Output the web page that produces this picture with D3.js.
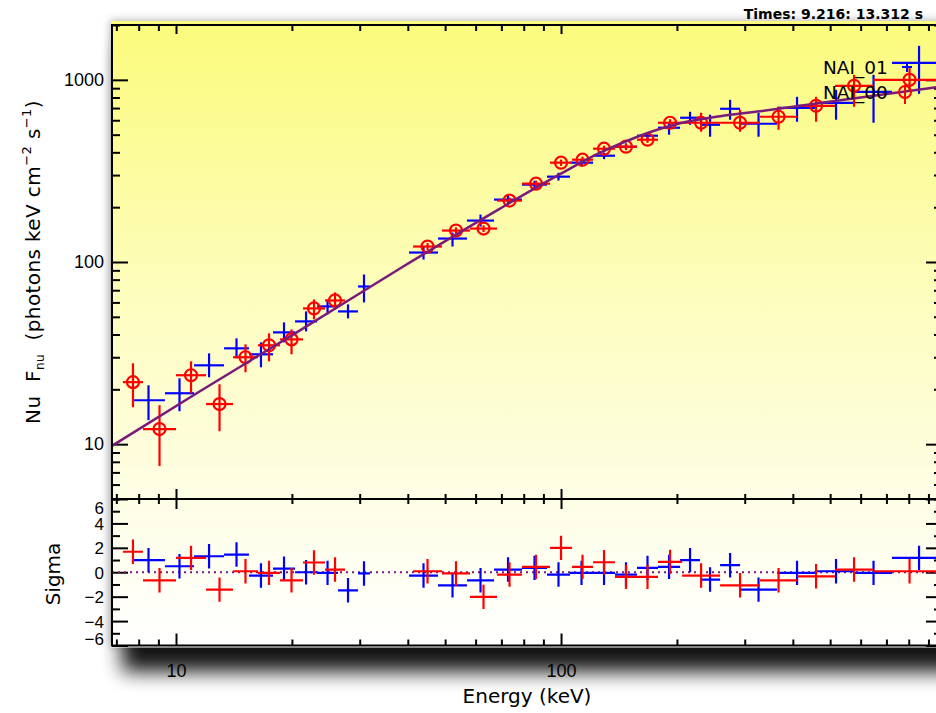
<!DOCTYPE html>
<html>
<head>
<meta charset="utf-8">
<script src="https://cdn.jsdelivr.net/npm/d3@7"></script>
<style>
  html, body { margin: 0; padding: 0; background: #ffffff; }
  svg { display: block; font-family: "DejaVu Sans", "Noto Sans", sans-serif; }
</style>
</head>
<body>
<svg id="chart" width="936" height="713"></svg>
<script>
// ---------- Data ----------
// NAI_00 (red): energy bin edges (keV), nu F_nu with 1-sigma bounds, fit residuals (sigma)
const redLo = [7.28, 8.21, 10.0, 11.97, 14.06, 16.33, 18.63, 21.37, 24.38,
               41.27, 49.08, 58.02, 68.20, 79.19, 93.63, 106.8, 121.1, 138.1, 157.5, 178.6, 206.3, 258.9, 328.7, 410.3, 514.9, 646.2];
const redHi = [8.21, 10.0, 11.97, 14.06, 16.33, 18.63, 21.37, 24.38, 27.48,
               49.08, 58.02, 68.20, 79.19, 93.63, 106.8, 121.1, 138.1, 157.5, 178.6, 206.3, 258.9, 328.7, 410.3, 514.9, 646.2, 1000];
const redFlux = [21.9, 12.1, 23.9, 16.6, 30.0, 34.9, 37.6, 55.6, 61.5,
                 121.6, 148.8, 152.6, 217.3, 269.2, 351, 364.5, 418.7, 429.4, 469.1, 581.2, 581.2, 581.2, 627.1, 720.2, 927.1, 1000];
const redFluxLo = [15.95, 7.58, 19.03, 11.78, 24.8, 28.5, 31.13, 48.4, 54.9,
                   116, 142, 146, 208, 258, 337, 350, 402, 412, 451, 556, 518.9, 518.9, 532.2, 588.6, 711.2, 859.5];
const redFluxHi = [27.79, 16.36, 28.5, 21.32, 35.31, 40.58, 42.67, 62.3, 68.1,
                   127, 155, 159, 226, 280, 365, 379, 435, 446, 488, 608, 659.5, 684.8, 711.2, 806.9, 1065, 1163.5];
const redSigma = [1.68, -0.66, 1.18, -1.42, 0.08, -0.05, -0.66, 0.8, 0.22,
                  0.08, -0.1, -2.02, -0.19, 0.44, 2.0, 0.44, 0.82, -0.38, -0.38, 0.85, -0.27, -1.07, -0.66, -0.33, 0.22, 0.08];

// NAI_01 (blue)
const blueLo = [7.69, 9.36, 11.14, 13.33, 15.47, 17.86, 20.38, 23.25, 26.35, 29.70,
                40.29, 47.92, 56.99, 66.99, 79.19, 91.96, 105.5, 121.1, 138.1, 157.5, 178.6, 203.8, 229.6, 258.9, 291.7, 363.9, 462.3, 580.2, 723.9];
const blueHi = [9.36, 11.14, 13.33, 15.47, 17.86, 20.38, 23.25, 26.35, 29.70, 31.9,
                47.92, 56.99, 66.99, 79.19, 91.96, 105.5, 121.1, 138.1, 157.5, 178.6, 203.8, 229.6, 258.9, 291.7, 363.9, 462.3, 580.2, 723.9, 1000];
const blueFlux = [17.42, 19.03, 27.09, 33.58, 31.13, 41.08, 47.2, 57.04, 53.55, 73.4,
                  112.7, 134.5, 168.8, 220.1, 265.9, 294.1, 351, 383.3, 429.4, 493.5, 545.8, 619.3, 566.7, 693.5, 574.1, 702.3, 748.1, 859.5, 1239];
const blueFluxLo = [13.54, 15.16, 23.29, 29.6, 26.42, 36.22, 41.6, 51.57, 49.0, 60.0,
                    103.2, 121.6, 156.5, 209, 253, 280, 334, 367, 411, 475, 499.7, 566.7, 487.3, 603.9, 487.3, 588.6, 603.9, 581.2, 838];
const blueFluxHi = [21.05, 22.99, 31.52, 38.08, 36.22, 46.62, 53.55, 62.3, 58.5, 85.4,
                    121.6, 145.1, 182.1, 232, 279, 309, 368, 399, 448, 512, 581.2, 667.7, 643.2, 777, 659.5, 806.9, 881.4, 1065, 1536];
const blueSigma = [0.99, 0.49, 1.31, 1.45, -0.27, 0.3, 0.0, -0.05, -1.48, -0.1,
                   -0.27, -1.07, -0.66, 0.22, 0.36, -0.19, -0.05, -0.05, -0.19, 0.36, 0.44, 0.99, -0.6, 0.58, -1.42, -0.05, 0.08, -0.05, 1.18];

// Fitted model, nu F_nu
const modelEnergy = [6.82, 11.54, 20.99, 38.17, 69.43, 99.4, 126.3, 160.4, 203.8, 258.8, 328.8, 530.6, 976.4];
const modelFlux   = [9.79, 19.52, 42.14, 92.1, 196.5, 303.5, 398, 493.5, 577.5, 631, 672, 772, 919];

// Axis ticks and labels
const energyLabels = [10, 100];
const fluxLabels = [10, 100, 1000];
const sigmaTicks = [-6, -5, -4, -3, -2, -1, 0, 1, 2, 3, 4, 5, 6];
const sigmaLabels = [-6, -4, -2, 0, 2, 4, 6];
const detectorNames = ["NAI_01", "NAI_00"];
const timeLabel = "Times: 9.216: 13.312 s";

// ---------- Layout ----------
const L = 112, R = 942, T = 25, MID = 499, B = 645.5;
const RED = "#ff0000", BLUE = "#0000ff", MODEL = "#7a1a7a";

const x = d3.scaleLog().domain([6.82, 976]).range([L, R]);
const yFlux = d3.scaleLog().domain([5, 2000]).range([MID, T]);
const ySig = d3.scaleLinear().domain([-6, 6]).range([B, MID]);

const svg = d3.select("#chart");
const defs = svg.append("defs");

const grad = defs.append("linearGradient").attr("id", "bgGrad")
  .attr("x1", 0).attr("y1", 0).attr("x2", 0).attr("y2", 1);
grad.append("stop").attr("offset", "0%").attr("stop-color", "#fbfb7c");
grad.append("stop").attr("offset", "45%").attr("stop-color", "#fdfdbf");
grad.append("stop").attr("offset", "80%").attr("stop-color", "#fefeea");
grad.append("stop").attr("offset", "100%").attr("stop-color", "#ffffff");

defs.append("filter").attr("id", "dropBlur")
  .attr("x", "-10%").attr("y", "-10%").attr("width", "120%").attr("height", "130%")
  .append("feGaussianBlur").attr("stdDeviation", 10);
defs.append("filter").attr("id", "softBlur")
  .attr("x", "-10%").attr("y", "-10%").attr("width", "120%").attr("height", "120%")
  .append("feGaussianBlur").attr("stdDeviation", 4);

defs.append("clipPath").attr("id", "clipTop").append("rect")
  .attr("x", L).attr("y", T).attr("width", R - L).attr("height", MID - T);
defs.append("clipPath").attr("id", "clipBot").append("rect")
  .attr("x", L).attr("y", MID).attr("width", R - L).attr("height", B - MID);

// frame shadows and background
svg.append("rect").attr("x", L - 2).attr("y", T - 5).attr("width", R - L + 6).attr("height", B - T + 6)
  .attr("fill", "#000").attr("opacity", 0.28).attr("filter", "url(#softBlur)");
svg.append("rect").attr("x", L + 10).attr("y", T + 22).attr("width", R - L + 10).attr("height", B - T + 4)
  .attr("fill", "#000").attr("opacity", 0.92).attr("filter", "url(#dropBlur)");
svg.append("rect").attr("x", L - 1).attr("y", T - 4).attr("width", R - L + 6).attr("height", B - T + 6)
  .attr("fill", "url(#bgGrad)");

// ---------- Axes ----------
const near = (a, b) => Math.abs(a - b) < 1e-6 * Math.max(1, Math.abs(b));
const xAll = x.ticks();
const xMaj = xAll.filter(v => energyLabels.some(m => near(v, m)));
const xMin = xAll.filter(v => !energyLabels.some(m => near(v, m)));
const fAll = yFlux.ticks();
const fMaj = fAll.filter(v => fluxLabels.some(m => near(v, m)));
const fMin = fAll.filter(v => !fluxLabels.some(m => near(v, m)));
const sMaj = sigmaTicks.filter(v => sigmaLabels.includes(v));
const sMin = sigmaTicks.filter(v => !sigmaLabels.includes(v));

function drawAxis(gen, tx, ty, fontSize) {
  const g = svg.append("g").attr("transform", `translate(${tx},${ty})`).call(gen);
  g.select(".domain").remove();
  g.selectAll(".tick line").attr("stroke", "#000").attr("stroke-width", 2);
  g.selectAll("text").attr("fill", "#000").attr("font-size", fontSize || 18);
  return g;
}
const blank = () => "";

// energy ticks: top of upper panel, both sides of the panel split, bottom
drawAxis(d3.axisTop(x).tickValues(xMaj).tickSize(-9).tickFormat(blank), 0, T);
drawAxis(d3.axisTop(x).tickValues(xMin).tickSize(-6).tickFormat(blank), 0, T);
drawAxis(d3.axisBottom(x).tickValues(xMaj).tickSize(-10).tickFormat(blank), 0, MID);
drawAxis(d3.axisBottom(x).tickValues(xMin).tickSize(-5).tickFormat(blank), 0, MID);
drawAxis(d3.axisTop(x).tickValues(xMaj).tickSize(-10).tickFormat(blank), 0, MID);
drawAxis(d3.axisTop(x).tickValues(xMin).tickSize(-5).tickFormat(blank), 0, MID);
drawAxis(d3.axisBottom(x).tickValues(xMaj).tickSize(-12).tickPadding(19).tickFormat(d3.format("d")), 0, B);
drawAxis(d3.axisBottom(x).tickValues(xMin).tickSize(-6).tickFormat(blank), 0, B);

// flux ticks
drawAxis(d3.axisLeft(yFlux).tickValues(fMaj).tickSize(-16).tickPadding(8).tickFormat(d3.format("d")), L, 0);
drawAxis(d3.axisLeft(yFlux).tickValues(fMin).tickSize(-8).tickFormat(blank), L, 0);
drawAxis(d3.axisRight(yFlux).tickValues(fMaj).tickSize(-16).tickFormat(blank), R, 0);
drawAxis(d3.axisRight(yFlux).tickValues(fMin).tickSize(-8).tickFormat(blank), R, 0);

// sigma ticks (end labels pulled inside the panel)
const sg = drawAxis(d3.axisLeft(ySig).tickValues(sMaj).tickSize(-16).tickPadding(8).tickFormat(d3.format("d")), L, 0, 17);
sg.selectAll(".tick text").attr("dy", d => d === 6 ? "0.86em" : d === -6 ? "-0.04em" : "0.36em");
drawAxis(d3.axisLeft(ySig).tickValues(sMin).tickSize(-8).tickFormat(blank), L, 0);
drawAxis(d3.axisRight(ySig).tickValues(sMaj).tickSize(-16).tickFormat(blank), R, 0);
drawAxis(d3.axisRight(ySig).tickValues(sMin).tickSize(-8).tickFormat(blank), R, 0);

// ---------- Data marks ----------
function series(lo, hi, flux, fLo, fHi, sig) {
  return lo.map((d, i) => ({ lo: d, hi: hi[i], e: Math.sqrt(d * hi[i]), f: flux[i], fLo: fLo[i], fHi: fHi[i], s: sig[i] }));
}
const blueData = series(blueLo, blueHi, blueFlux, blueFluxLo, blueFluxHi, blueSigma);
const redData = series(redLo, redHi, redFlux, redFluxLo, redFluxHi, redSigma);

const topG = svg.append("g").attr("clip-path", "url(#clipTop)");
const botG = svg.append("g").attr("clip-path", "url(#clipBot)");

function drawSpectrum(data, color, circles) {
  const g = topG.append("g").attr("stroke", color).attr("stroke-width", 2.2).attr("fill", "none");
  g.selectAll("line.h").data(data).join("line").attr("class", "h")
    .attr("x1", d => x(d.lo)).attr("x2", d => x(d.hi))
    .attr("y1", d => yFlux(d.f)).attr("y2", d => yFlux(d.f));
  g.selectAll("line.v").data(data).join("line").attr("class", "v")
    .attr("x1", d => x(d.e)).attr("x2", d => x(d.e))
    .attr("y1", d => yFlux(d.fLo)).attr("y2", d => yFlux(d.fHi));
  if (circles) {
    g.selectAll("circle").data(data).join("circle")
      .attr("cx", d => x(d.e)).attr("cy", d => yFlux(d.f)).attr("r", 6);
  }
}
function drawResiduals(data, color) {
  const g = botG.append("g").attr("stroke", color).attr("stroke-width", 2.2);
  g.selectAll("line.h").data(data).join("line").attr("class", "h")
    .attr("x1", d => x(d.lo)).attr("x2", d => x(d.hi))
    .attr("y1", d => ySig(d.s)).attr("y2", d => ySig(d.s));
  g.selectAll("line.v").data(data).join("line").attr("class", "v")
    .attr("x1", d => x(d.e)).attr("x2", d => x(d.e))
    .attr("y1", d => ySig(d.s - 1)).attr("y2", d => ySig(d.s + 1));
}

drawSpectrum(blueData, BLUE, false);
drawSpectrum(redData, RED, true);

// model curve
const modelData = modelEnergy.map((e, i) => ({ e, f: modelFlux[i] }));
topG.append("path").datum(modelData)
  .attr("fill", "none").attr("stroke", MODEL).attr("stroke-width", 2.5)
  .attr("d", d3.line().x(d => x(d.e)).y(d => yFlux(d.f)).curve(d3.curveMonotoneX));

// residual panel: zero line then residuals
botG.append("line").attr("x1", L).attr("x2", R).attr("y1", ySig(0)).attr("y2", ySig(0))
  .attr("stroke", MODEL).attr("stroke-width", 2).attr("stroke-dasharray", "2,4");
drawResiduals(blueData, BLUE);
drawResiduals(redData, RED);

// frame
svg.append("rect").attr("x", L).attr("y", T).attr("width", R - L).attr("height", B - T)
  .attr("fill", "none").attr("stroke", "#000").attr("stroke-width", 2);
svg.append("line").attr("x1", L).attr("x2", R).attr("y1", MID).attr("y2", MID)
  .attr("stroke", "#000").attr("stroke-width", 2);

// ---------- Legend ----------
const legend = svg.append("g");
legend.selectAll("text").data(detectorNames).join("text")
  .attr("x", 823).attr("y", (d, i) => 73.5 + i * 25)
  .attr("font-size", 18.5).attr("fill", "#000").text(d => d);
const lb = legend.append("g").attr("stroke", BLUE).attr("stroke-width", 2);
lb.append("line").attr("x1", 902).attr("x2", 912).attr("y1", 67).attr("y2", 67);
lb.append("line").attr("x1", 907).attr("x2", 907).attr("y1", 62).attr("y2", 72);
const lr = legend.append("g").attr("stroke", RED).attr("stroke-width", 2).attr("fill", "none");
lr.append("circle").attr("cx", 905).attr("cy", 92).attr("r", 6);
lr.append("line").attr("x1", 905).attr("x2", 905).attr("y1", 85).attr("y2", 104);

// ---------- Titles ----------
svg.append("text").attr("x", 923).attr("y", 19).attr("text-anchor", "end")
  .attr("font-size", 14).attr("font-weight", "bold").attr("fill", "#000").text(timeLabel);

svg.append("text").attr("x", (L + R) / 2).attr("y", 703).attr("text-anchor", "middle")
  .attr("font-size", 20).attr("fill", "#000").text("Energy (keV)");

const yl = svg.append("text").attr("transform", `translate(40,${(T + MID) / 2}) rotate(-90)`)
  .attr("text-anchor", "middle").attr("font-size", 20).attr("letter-spacing", 0.4)
  .attr("fill", "#000").style("white-space", "pre");
yl.append("tspan").text("Nu  F");
yl.append("tspan").attr("font-size", 12).attr("dy", 4).text("nu");
yl.append("tspan").attr("dy", -4).text("  (photons keV cm");
yl.append("tspan").attr("font-size", 13).attr("dy", -9).text("−2");
yl.append("tspan").attr("dy", 9).text(" s");
yl.append("tspan").attr("font-size", 13).attr("dy", -9).text("−1");
yl.append("tspan").attr("dy", 9).text(")");

svg.append("text").attr("transform", `translate(60,574) rotate(-90)`)
  .attr("text-anchor", "middle").attr("font-size", 20).attr("fill", "#000").text("Sigma");
</script>
</body>
</html>
